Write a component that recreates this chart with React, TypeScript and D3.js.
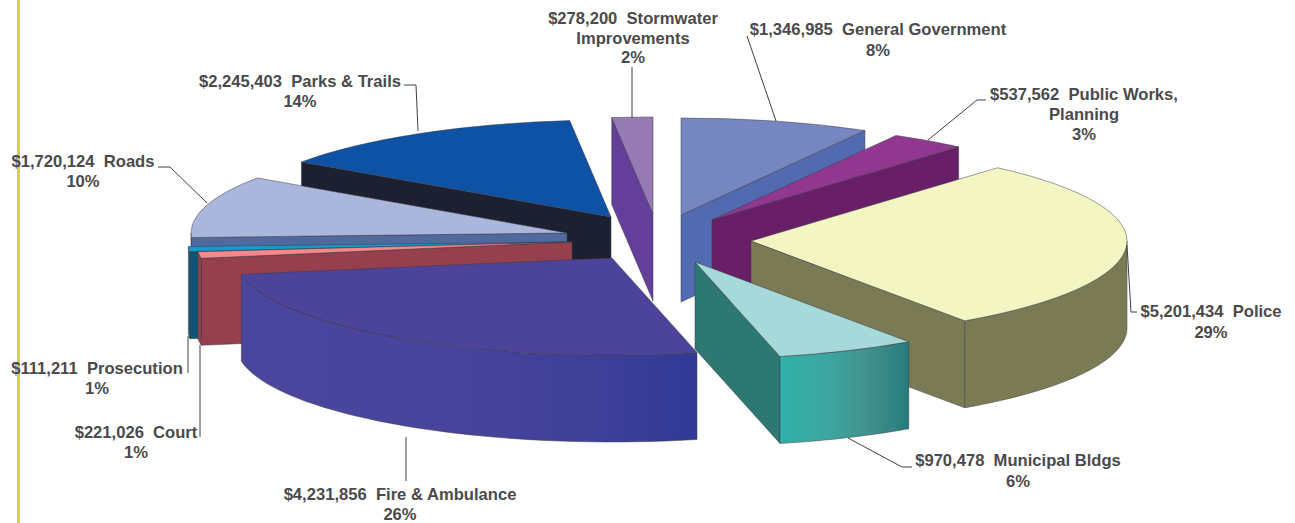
import React from "react";
import * as d3 from "d3";

// Values
const categories = ["General Government", "Public Works", "Police", "Municipal Bldgs", "Fire & Ambulance", "Court", "Prosecution", "Roads", "Parks & Trails", "Stormwater"];
const amounts = ["$1,346,985", "$537,562", "$5,201,434", "$970,478", "$4,231,856", "$221,026", "$111,211", "$1,720,124", "$2,245,403", "$278,200"];
const percents = ["8%", "3%", "29%", "6%", "26%", "1%", "1%", "10%", "14%", "2%"];
// share of the circle each slice takes in the drawing
const sliceShares = [8.14, 3.25, 29.0, 6.0, 25.95, 1.1, 0.85, 10.35, 13.65, 1.75];

const topColors = ["#7686c0", "#91378f", "#f3f6c3", "#a6dada", "#4c449b", "#fa878c", "#149bcd", "#aab6dc", "#0e52a5", "#967ab4"];
const wallColors = ["#526ab0", "#681f68", "#7a7b54", "#2e7873", "#4c449b", "#96404e", "#0f5573", "#50699f", "#1c2030", "#643e9b"];

// Layout
const W = 1295, H = 523, RX = 376, RY = 97, DEPTH = 87;
const apexes: [number, number][] = [[681, 215], [712, 220], [751, 241], [695, 262], [612, 258], [572, 242], [564, 242], [567, 233], [611, 217], [653, 214]];
const drawOrder = [9, 0, 8, 1, 7, 6, 5, 2, 4, 3];
const labelLines: string[][] = [
  [`${amounts[0]}  ${categories[0]}`, percents[0]],
  [`${amounts[1]}  ${categories[1]},`, "Planning", percents[1]],
  [`${amounts[2]}  ${categories[2]}`, percents[2]],
  [`${amounts[3]}  ${categories[3]}`, percents[3]],
  [`${amounts[4]}  ${categories[4]}`, percents[4]],
  [`${amounts[5]}  ${categories[5]}`, percents[5]],
  [`${amounts[6]}  ${categories[6]}`, percents[6]],
  [`${amounts[7]}  ${categories[7]}`, percents[7]],
  [`${amounts[8]}  ${categories[8]}`, percents[8]],
  [`${amounts[9]}  ${categories[9]}`, "Improvements", percents[9]],
];
const labelAnchors: [number, number][] = [[878, 35], [1084, 100], [1211, 317], [1018, 466], [400, 500], [136, 438], [97, 374], [83, 167], [300, 87], [633, 24]];
const lineSteps = [21, 20, 20.5, 21, 19.5, 20, 20, 20, 20, 19.5];
const leaders: [number, number][][] = [
  [[747, 36], [776, 121]],
  [[986, 100], [977, 100], [928, 140]],
  [[1137, 312], [1131, 312], [1127, 245]],
  [[848, 438], [902, 467], [912, 467]],
  [[406, 437], [406, 481]],
  [[200, 345], [200, 437]],
  [[188, 336], [188, 373]],
  [[158, 167], [170, 167], [207, 203]],
  [[404, 85], [416, 85], [418, 131]],
  [[632, 67], [632, 118]],
];
const gradients: Record<number, [number, number, string][]> = {
  3: [[780, 0, "#2fb2a9"], [830, 0, "#3ea5a0"], [870, 0, "#41908c"], [908, 0, "#267d7d"]],
  4: [[243, 0, "#4a469e"], [450, 0, "#48449b"], [600, 0, "#3e3f98"], [697, 0, "#303a96"]],
};

const pieGen = d3.pie<number>().sort(null).value((d) => d);
const arcs = pieGen(sliceShares);
const arcGen = d3.arc<any>().innerRadius(0).outerRadius(RX);
const rimPt = (a: number): [number, number] => [RX * Math.sin(a), -RY * Math.cos(a)];
const lineGen = d3.line<[number, number]>();
const STROKE = "#3c3c44";

function outerWall(start: number, end: number): string | null {
  const a0 = Math.max(start, Math.PI / 2);
  const a1 = Math.min(end, (3 * Math.PI) / 2);
  if (a1 <= a0) return null;
  const angles = d3.range(0, 41).map((i) => a0 + ((a1 - a0) * i) / 40);
  const top = angles.map(rimPt);
  const bottom = angles.slice().reverse().map((a) => {
    const p = rimPt(a);
    return [p[0], p[1] + DEPTH] as [number, number];
  });
  return lineGen([...top, ...bottom]) + "Z";
}

function radialWall(a: number): string {
  const p = rimPt(a);
  return lineGen([[0, 0], p, [p[0], p[1] + DEPTH], [0, DEPTH]]) + "Z";
}

export default function App() {
  return (
    <svg
      width={W}
      height={H}
      viewBox={`0 0 ${W} ${H}`}
      style={{ position: "absolute", left: 0, top: 0, background: "#fff" }}
    >
      <defs>
        {Object.entries(gradients).map(([k, stops]) => {
          const i = +k;
          const x0 = stops[0][0], x1 = stops[stops.length - 1][0];
          return (
            <linearGradient key={k} id={`wall${k}`} gradientUnits="userSpaceOnUse" x1={x0 - apexes[i][0]} x2={x1 - apexes[i][0]} y1={0} y2={0}>
              {stops.map((s, j) => (
                <stop key={j} offset={(s[0] - x0) / (x1 - x0)} stopColor={s[2]} />
              ))}
            </linearGradient>
          );
        })}
      </defs>
      <rect x={17} y={0} width={3} height={H} fill="#d6d246" />
      {drawOrder.map((i) => {
        const arc = arcs[i];
        const [ax, ay] = apexes[i];
        const sVis = arc.startAngle > Math.PI;
        const eVis = arc.endAngle < Math.PI;
        const outer = outerWall(arc.startAngle, arc.endAngle);
        const outerFill = gradients[i] ? `url(#wall${i})` : wallColors[i];
        return (
          <g key={categories[i]} transform={`translate(${ax},${ay})`} strokeLinejoin="round">
            {sVis && <path d={radialWall(arc.startAngle)} fill={wallColors[i]} stroke={STROKE} strokeWidth={0.5} />}
            {eVis && <path d={radialWall(arc.endAngle)} fill={wallColors[i]} stroke={STROKE} strokeWidth={0.5} />}
            {outer && <path d={outer} fill={outerFill} stroke={STROKE} strokeWidth={0.5} />}
            <path
              d={arcGen(arc) as string}
              transform={`scale(1,${RY / RX})`}
              fill={topColors[i]}
              stroke={STROKE}
              strokeWidth={0.5}
              vectorEffect="non-scaling-stroke"
            />
          </g>
        );
      })}
      {leaders.map((pts, i) => (
        <path key={i} d={lineGen(pts) as string} fill="none" stroke="#404040" strokeWidth={1} />
      ))}
      {labelLines.map((lines, i) => (
        <text
          key={i}
          textAnchor="middle"
          fontFamily="'Liberation Sans', Arial, sans-serif"
          fontWeight="bold"
          fontSize={16.6}
          fill="#4a4a4c"
          style={{ whiteSpace: "pre" }}
        >
          {lines.map((t, j) => (
            <tspan key={j} x={labelAnchors[i][0]} y={labelAnchors[i][1] + j * lineSteps[i]}>
              {t}
            </tspan>
          ))}
        </text>
      ))}
    </svg>
  );
}
